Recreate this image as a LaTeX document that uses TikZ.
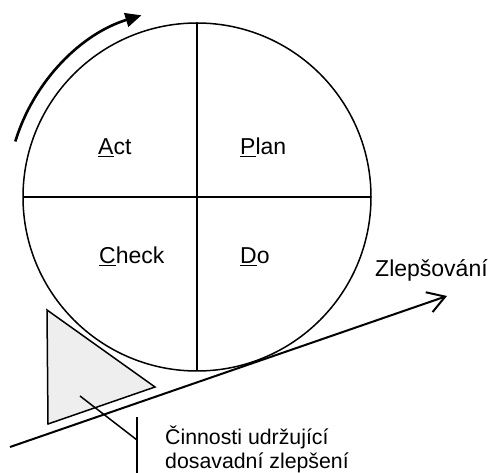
\documentclass[tikz,border=0pt]{standalone}
\usepackage{fontspec}
\setmainfont{Liberation Sans}
\usetikzlibrary{arrows.meta}
\begin{document}
\begin{tikzpicture}[x=1pt,y=1pt,
  label/.style={anchor=base west,inner sep=0pt,font=\fontsize{23}{27}\selectfont},
  note/.style={anchor=base west,inner sep=0pt,font=\fontsize{21.3}{24}\selectfont,align=left},
  thinline/.style={line width=1.5pt},
  trend/.style={line width=2pt,-{Straight Barb[length=17pt,width=21pt,line width=2pt]}},
  turn/.style={line width=2.6pt,-{Triangle[length=16pt,width=14pt]}}]
\useasboundingbox (0,0) rectangle (495,473);
% the PDCA wheel
\coordinate (c) at (197,276);
\draw[thinline] (c) circle[radius=174];
\draw[thinline] (c) ++(0,174) coordinate (ctop) -- (c) -- ++(0,-174) coordinate (cbot);
\draw[thinline] (c) ++(-174,0) coordinate (cleft) -- ++(348,0) coordinate (cright);
% direction of rotation
\draw[turn] (c) ++(163:190) arc[start angle=163,end angle=107,radius=190];
% quadrant labels
\node[label] (act) at (98,318) {\underline{A}ct};
\node[label] (plan) at (240,318) {\underline{P}lan};
\node[label] (check) at (99,209) {\underline{C}heck};
\node[label] (do) at (240,209) {\underline{D}o};
% improvement slope
\coordinate (s0) at (10,26);
\coordinate (s1) at (447,177);
\draw[trend] (s0) -- (s1);
\node[label] (zlep) at (375,196) {Zlepšování};
% wedge holding the wheel
\draw[thinline,fill=gray!13] (47,163) coordinate (w1) -- (155,86) coordinate (w2) -- (48,49) coordinate (w3) -- cycle;
% callout
\coordinate (p0) at (80,77);
\coordinate (p1) at (137,33);
\draw[thinline] (p0) -- (p1);
\draw[thinline] (137,56) coordinate (b0) -- (137,0) coordinate (b1);
\node[note] (cinn) at (165,4) {Činnosti udržující\\dosavadní zlepšení};
\end{tikzpicture}
\end{document}
